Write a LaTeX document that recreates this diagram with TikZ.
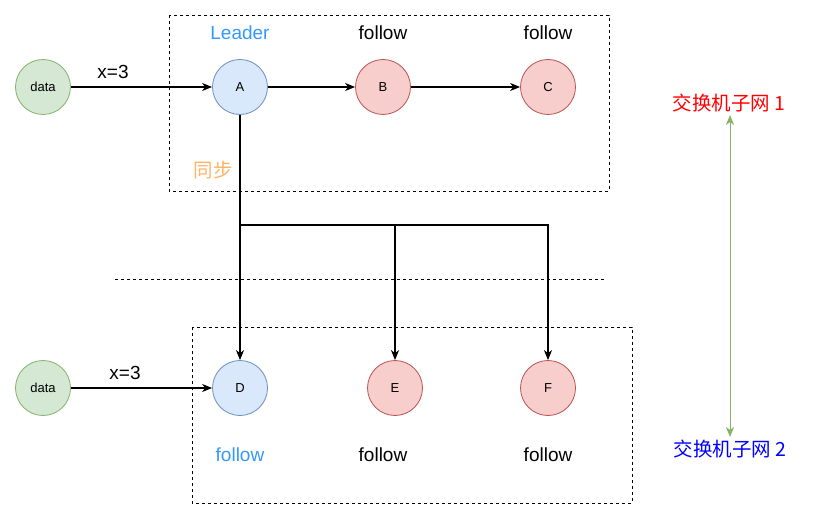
\documentclass[tikz,border=0pt]{standalone}
\usepackage{fontspec}
\setmainfont{Liberation Sans}
\newfontfamily\cjk{Noto Sans CJK SC}
\usetikzlibrary{arrows.meta}
\definecolor{gfill}{HTML}{D5E8D4}
\definecolor{gline}{HTML}{82B366}
\definecolor{bfill}{HTML}{DAE8FC}
\definecolor{bline}{HTML}{6C8EBF}
\definecolor{rfill}{HTML}{F8CECC}
\definecolor{rline}{HTML}{B85450}
\definecolor{leaderblue}{HTML}{3399FF}
\definecolor{syncorange}{HTML}{FFB366}
\tikzset{
  circ/.style={circle, minimum size=55pt, inner sep=0pt, line width=0.8pt, font=\fontsize{13}{15}\selectfont},
  gnode/.style={circ, fill=gfill, draw=gline},
  bnode/.style={circ, fill=bfill, draw=bline},
  rnode/.style={circ, fill=rfill, draw=rline},
  lbl/.style={inner sep=0pt, font=\fontsize{19}{22}\selectfont},
  cjklbl/.style={inner sep=0pt, font=\cjk\fontsize{19.5}{22}\selectfont},
  arr/.style={line width=1.1pt, -{Stealth[length=10pt, width=8pt, inset=3pt]}},
  dbox/.style={draw, line width=0.9pt, dash pattern=on 3pt off 3pt}
}
\begin{document}
\begin{tikzpicture}[x=1pt, y=-1pt]
\useasboundingbox (0,0) rectangle (824,521);
% dashed boxes and separator
\draw[dbox] (169,15) rectangle (609,191);
\draw[dbox] (192,327) rectangle (632,503);
\coordinate (sepL) at (115,279);
\coordinate (sepR) at (605,279);
\draw[dbox] (sepL) -- (sepR);
% nodes
\node[gnode] (d1) at (43,87) {data};
\node[bnode] (A) at (240,87) {A};
\node[rnode] (B) at (383,87) {B};
\node[rnode] (C) at (548,87) {C};
\node[gnode] (d2) at (43,388) {data};
\node[bnode] (D) at (240,388) {D};
\node[rnode] (E) at (395,388) {E};
\node[rnode] (F) at (548,388) {F};
% labels
\node[lbl, text=leaderblue] (lead) at (240,33) {Leader};
\node[lbl] (fB) at (383,33) {follow};
\node[lbl] (fC) at (548,33) {follow};
\node[lbl, text=leaderblue] (fD) at (240,455) {follow};
\node[lbl] (fE) at (383,455) {follow};
\node[lbl] (fF) at (548,455) {follow};
\node[cjklbl, text=syncorange] (sync) at (213,170) {同步};
\node[lbl] (x1) at (113,72) {x=3};
\node[lbl] (x2) at (125,373) {x=3};
\node[cjklbl, text=red] (net1) at (729,103) {交换机子网 1};
\node[cjklbl, text=blue] (net2) at (730,449) {交换机子网 2};
% connectors
\draw[arr] (d1) -- (A);
\draw[arr] (A) -- (B);
\draw[arr] (B) -- (C);
\draw[arr] (d2) -- (D);
\coordinate (j) at (240,225);
\draw[line width=1.1pt] (A) -- (j);
\draw[arr] (j) -- (D);
\draw[arr] (j) -| (E.north);
\draw[arr] (j) -| (F.north);
\coordinate (g1) at (730,115);
\coordinate (g2) at (730,437);
\draw[line width=1pt, draw=gline, {Stealth[length=10pt, width=8pt, inset=3pt]}-{Stealth[length=10pt, width=8pt, inset=3pt]}] (g1) -- (g2);
\end{tikzpicture}
\end{document}
